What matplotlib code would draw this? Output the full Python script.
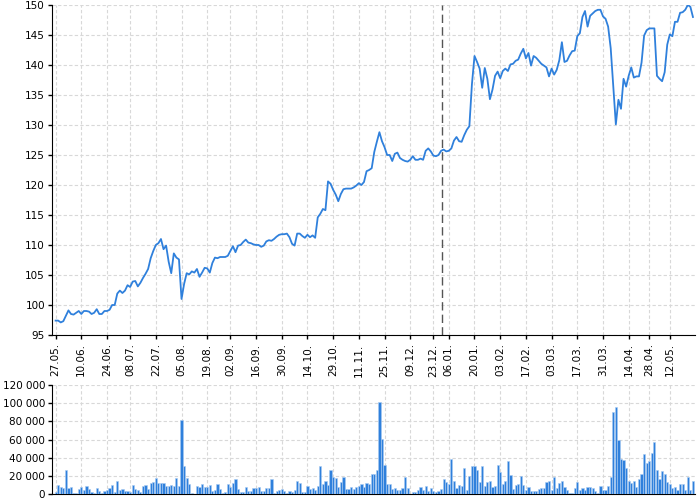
import numpy as np
import matplotlib
matplotlib.use("Agg")
import matplotlib.pyplot as plt
from matplotlib.ticker import FuncFormatter, MultipleLocator

# closing prices, one per trading day
price = [
    97.4, 97.4, 97.1, 97.3, 98.2, 99.1, 98.5, 98.4, 98.7, 99.0,
    98.5, 99.0, 99.0, 98.9, 98.5, 98.7, 99.3, 98.5, 98.5, 99.0,
    99.0, 99.2, 100.0, 100.0, 101.9, 102.4, 102.0, 102.4, 103.3, 103.0,
    103.9, 104.0, 103.1, 103.7, 104.5, 105.2, 106.0, 107.8, 109.0, 110.0,
    110.3, 111.0, 109.3, 109.9, 107.2, 105.3, 108.6, 107.9, 107.6, 101.0,
    103.5, 105.3, 105.1, 105.6, 105.4, 106.0, 104.7, 105.4, 106.2, 106.1,
    105.4, 107.0, 107.9, 107.8, 108.0, 108.0, 108.0, 108.2, 109.0, 109.8,
    108.8, 109.9, 110.0, 110.5, 110.9, 110.4, 110.3, 110.1, 110.0, 110.0,
    109.7, 109.9, 110.6, 110.8, 110.7, 111.0, 111.4, 111.7, 111.8, 111.8,
    111.9, 111.3, 110.2, 109.9, 111.9, 111.9, 111.5, 111.2, 111.7, 111.3,
    111.6, 111.2, 114.6, 115.2, 116.0, 115.8, 120.6, 120.2, 119.2, 118.4,
    117.3, 118.5, 119.3, 119.4, 119.4, 119.4, 119.6, 119.9, 120.3, 120.0,
    120.5, 122.3, 122.5, 122.8, 125.5, 127.2, 128.8, 127.3, 126.3, 125.0,
    125.0, 124.0, 125.2, 125.4, 124.5, 124.2, 124.0, 123.9, 124.2, 124.8,
    124.2, 124.2, 124.4, 124.2, 125.7, 126.1, 125.6, 124.9, 124.8, 125.0,
    125.7, 125.9, 125.6, 125.7, 126.1, 127.4, 128.0, 127.3, 127.2, 128.3,
    129.2, 129.8, 136.8, 141.5, 140.5, 139.4, 136.2, 139.5, 137.7, 134.3,
    135.9, 138.2, 138.9, 137.8, 139.0, 139.4, 139.0, 140.1, 140.2, 140.7,
    140.9, 141.9, 142.7, 141.1, 142.0, 139.9, 141.5, 141.2, 140.7, 140.2,
    139.9, 139.6, 138.1, 139.4, 138.4, 139.2, 140.8, 143.8, 140.5, 140.7,
    141.6, 142.3, 142.4, 144.8, 145.3, 148.0, 149.0, 146.4, 148.2, 148.6,
    149.0, 149.2, 149.2, 148.1, 147.7, 146.4, 142.8, 136.5, 130.1, 134.2,
    132.7, 137.7, 136.4, 138.2, 139.6, 137.9, 138.1, 138.1, 140.4, 144.9,
    145.8, 146.1, 146.1, 146.1, 138.2, 137.7, 137.3, 138.8, 143.4, 145.1,
    144.8, 147.2, 147.2, 148.7, 148.8, 149.2, 150.0, 149.7, 148.0,
]

volume = [
    2000, 10000, 7000, 6000, 26000, 6000, 7000, 1000, 1000, 5000,
    7500, 4000, 8000, 5000, 2000, 1000, 6000, 3000, 500, 3500,
    4000, 6000, 10000, 2000, 14500, 4000, 5000, 3000, 3000, 2000,
    10000, 5500, 4000, 2000, 9000, 9500, 5000, 12000, 12500, 17000,
    11500, 11500, 11500, 9000, 8000, 9500, 9000, 17500, 9000, 82000,
    30500, 17500, 10500, 500, 0, 8000, 7000, 10500, 7000, 7000,
    9500, 3500, 4000, 10500, 5000, 1000, 2000, 10500, 7500, 12000,
    16000, 5000, 2000, 2000, 7000, 3000, 3000, 6000, 6500, 7500,
    3000, 3000, 6500, 6500, 16000, 500, 3000, 4000, 5000, 3000,
    500, 3000, 2000, 4000, 14500, 11500, 2000, 2000, 8000, 5500,
    6000, 4000, 9000, 31000, 10500, 14000, 9500, 26000, 18000, 17500,
    7000, 12500, 19000, 5500, 5500,
    7500, 5000, 7000, 8500, 10500, 7000, 12000, 10500, 21500, 22000,
    26000, 101000, 61000, 31500, 11000, 10500, 5000, 6000, 4000, 4000,
    6000, 18000, 6000, 0, 1500, 1500, 4000, 7500, 4000, 8500,
    3000, 6000, 3000, 2000, 3000, 5000, 16500, 13000, 10500, 38000,
    14000, 6000, 10000, 9000, 29000, 4000, 19500, 31000, 31000, 26000,
    13500, 31000, 9000, 13500, 14500, 7000, 8500, 32000, 24000, 10500,
    14000, 36000, 21000, 5000, 10000, 10500, 20000, 9500, 4500, 7500,
    3500, 3000, 3000, 5000, 6000, 6000, 12500, 14500, 4000, 19000,
    6000, 12000, 14500, 7000, 4000, 1000, 1000, 6000, 13500, 4000,
    6000, 4000, 7000, 7000, 6000, 3000, 500, 9000, 4000, 4000,
    9000, 18000, 90000, 96000, 59500, 38500, 37500, 28500, 14000, 11500,
    14500, 7000, 16500, 21500, 43500, 34000, 36000, 45500, 57000, 26000,
    16000, 25000, 22000, 13000, 10500, 6000, 7000, 4000, 11000, 10500,
    4000, 19000, 4000, 14500,
]

tick_pos = [0, 10, 20, 29, 39, 49, 59, 68, 78, 88, 98, 108, 118, 128,
            138, 147, 153, 163, 173, 183, 193, 203, 213, 223, 231, 239]
tick_labels = ["27.05.", "10.06.", "24.06.", "08.07.", "22.07.", "05.08.",
               "19.08.", "02.09.", "16.09.", "30.09.", "14.10.", "29.10.",
               "11.11.", "25.11.", "09.12.", "23.12.", "06.01.", "20.01.",
               "03.02.", "17.02.", "03.03.", "17.03.", "31.03.", "14.04.",
               "28.04.", "12.05."]
year_break = 150.5

blue = "#2f80dc"
grid_kw = dict(color="#d8d8d8", linestyle=(0, (3, 2)), linewidth=0.8)

fig = plt.figure(figsize=(7, 5), dpi=100)
ax = fig.add_axes([52 / 700, 165 / 500, 643 / 700, 330 / 500])
axv = fig.add_axes([52 / 700, 6.3 / 500, 643 / 700, 108.4 / 500])

x = np.arange(len(price))
ax.plot(x, price, color=blue, linewidth=1.3, zorder=3)
ax.axvline(year_break, color="#555555", linestyle=(0, (6, 3)), linewidth=1, zorder=2)

ax.set_xlim(-1.4, 248.8)
ax.set_ylim(95, 150)
ax.yaxis.set_major_locator(MultipleLocator(5))
ax.set_xticks(tick_pos)
ax.set_xticklabels(tick_labels, rotation=90, fontsize=7.5)
ax.tick_params(axis="y", labelsize=7.5, length=3, width=1, pad=2)
ax.tick_params(axis="x", length=3, width=1, pad=3)
ax.grid(True, **grid_kw)
ax.set_axisbelow(True)
for s in ["top", "right"]:
    ax.spines[s].set_visible(False)

axv.bar(np.arange(len(volume)), volume, width=0.85, color=blue,
        edgecolor="#a9cbf1", linewidth=0.4, zorder=3)
axv.set_xlim(-1.4, 248.8)
axv.set_ylim(0, 120000)
axv.yaxis.set_major_locator(MultipleLocator(20000))
axv.yaxis.set_major_formatter(FuncFormatter(lambda v, p: f"{int(v):,}".replace(",", " ")))
axv.set_xticks(tick_pos)
axv.tick_params(axis="x", length=0, labelbottom=False)
axv.tick_params(axis="y", labelsize=7.5, length=3, width=1, pad=2)
axv.grid(True, **grid_kw)
axv.set_axisbelow(True)
for s in ["top", "right"]:
    axv.spines[s].set_visible(False)

fig.savefig("out.png", dpi=100)
